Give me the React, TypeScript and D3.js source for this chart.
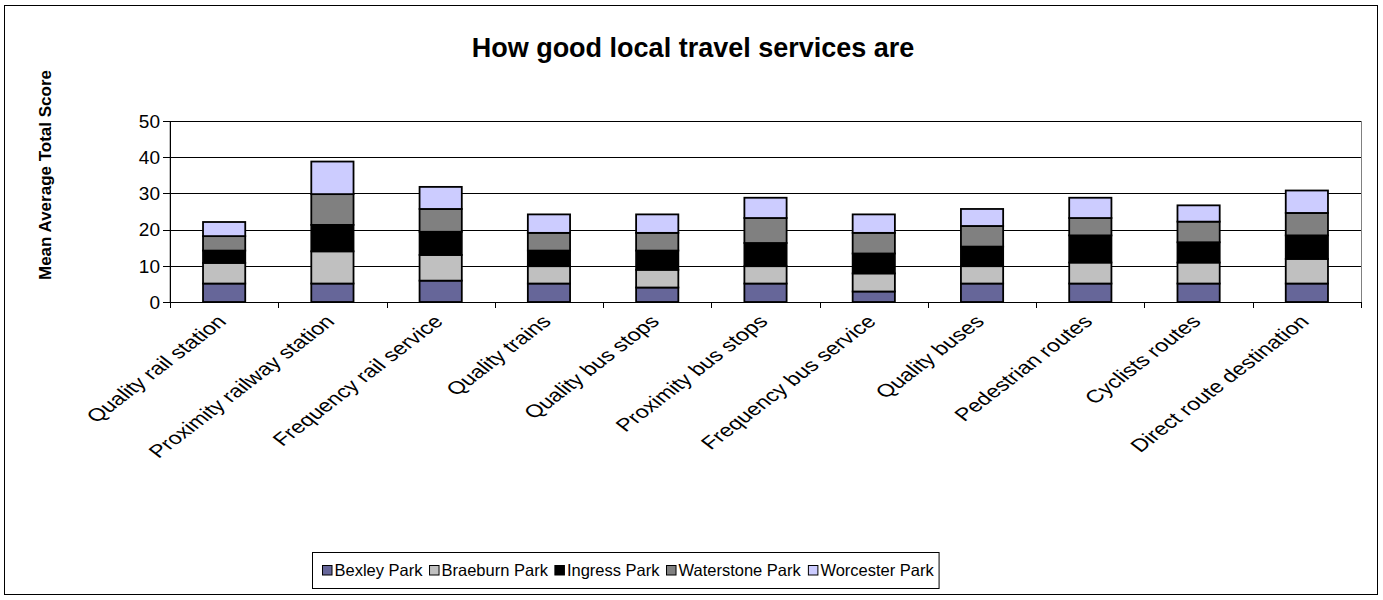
import React from 'react';
import * as d3 from 'd3';

const categories = [
  'Quality rail station',
  'Proximity railway station',
  'Frequency rail service',
  'Quality trains',
  'Quality bus stops',
  'Proximity bus stops',
  'Frequency bus service',
  'Quality buses',
  'Pedestrian routes',
  'Cyclists routes',
  'Direct route destination',
];
const seriesNames = ['Bexley Park', 'Braeburn Park', 'Ingress Park', 'Waterstone Park', 'Worcester Park'];
const seriesColors = ['#666699', '#C0C0C0', '#000000', '#808080', '#CCCCFF'];
const bexley = [5.1, 5.1, 5.9, 5.1, 4.0, 5.1, 2.9, 5.1, 5.1, 5.1, 5.1];
const braeburn = [5.7, 8.9, 7.1, 4.8, 4.9, 4.8, 5.0, 4.8, 5.8, 5.8, 6.8];
const ingress = [3.4, 7.3, 6.4, 4.3, 5.3, 6.4, 5.5, 5.4, 7.5, 5.6, 6.5];
const waterstone = [4.0, 8.5, 6.3, 4.9, 4.9, 6.9, 5.7, 5.7, 4.8, 5.7, 6.2];
const worcester = [3.9, 9.0, 6.1, 5.1, 5.1, 5.6, 5.1, 4.7, 5.6, 4.5, 6.2];
const yTicks = [0, 10, 20, 30, 40, 50];
const title = 'How good local travel services are';
const yTitle = 'Mean Average Total Score';

const W = 1383;
const H = 600;
const FONT = 'Liberation Sans, Arial, sans-serif';
const LABEL_SX = 1.3;

export default function App() {
  const plotL = 170, plotR = 1361, plotT = 121, plotB = 302;
  const x = d3.scaleBand<string>().domain(categories).range([plotL, plotR]);
  const y = d3.scaleLinear().domain([0, 50]).range([plotB, plotT]);
  const barW = x.bandwidth() * 0.39;

  const rows = categories.map((c, i) => ({
    cat: c,
    'Bexley Park': bexley[i],
    'Braeburn Park': braeburn[i],
    'Ingress Park': ingress[i],
    'Waterstone Park': waterstone[i],
    'Worcester Park': worcester[i],
  }));
  const stacked = d3.stack<any>().keys(seriesNames)(rows);

  // legend layout (estimated Arial em widths)
  const legFont = 16.5;
  const legX = 312, legY = 552, legH = 36;
  const ems = [5.335, 6.447, 5.613, 7.447, 6.89];
  let cx = legX + 10;
  const legItems = seriesNames.map((n, i) => {
    const item = { n, i, x: cx };
    cx += 12 + ems[i] * legFont + 7;
    return item;
  });
  const legW = cx - legX - 2;

  return (
    <div style={{ position: 'absolute', left: 0, top: 0 }}>
      <svg width={W} height={H} style={{ display: 'block', fontFamily: FONT }}>
        <rect x={0} y={0} width={W} height={H} fill="#fff" />
        <rect x={4.5} y={5.5} width={1373} height={589} fill="#fff" stroke="#000" strokeWidth={1} />
        <text x={693} y={57} textAnchor="middle" fontWeight="bold" fontSize={27}>{title}</text>
        <text transform={`translate(51,175) rotate(-90)`} textAnchor="middle" fontWeight="bold" fontSize={17}>{yTitle}</text>

        {/* plot border */}
        <rect x={plotL} y={plotT + 0.5} width={plotR - plotL + 0.5} height={plotB - plotT} fill="none" stroke="#808080" strokeWidth={1} />
        {/* gridlines */}
        {yTicks.map(t => (
          <line key={t} x1={plotL} x2={plotR} y1={Math.round(y(t)) + 0.5} y2={Math.round(y(t)) + 0.5} stroke="#000" strokeWidth={1} />
        ))}
        {/* y axis */}
        <line x1={plotL + 0.5} x2={plotL + 0.5} y1={plotT} y2={plotB + 6} stroke="#000" />
        {yTicks.map(t => (
          <g key={'yt' + t}>
            <line x1={plotL - 7} x2={plotL} y1={Math.round(y(t)) + 0.5} y2={Math.round(y(t)) + 0.5} stroke="#000" />
            <text x={plotL - 10} y={y(t)} dy="0.36em" textAnchor="end" fontSize={19}>{t}</text>
          </g>
        ))}
        {/* x ticks */}
        {categories.map((c, i) => {
          const xx = Math.round((x(c) as number) + x.bandwidth()) + 0.5;
          return <line key={'xt' + i} x1={xx} x2={xx} y1={plotB} y2={plotB + 6} stroke="#000" />;
        })}

        {/* bars */}
        {stacked.map((s, si) => (
          <g key={s.key}>
            {s.map((d, i) => (
              <rect
                key={i}
                x={(x(categories[i]) as number) + x.bandwidth() / 2 - barW / 2}
                y={y(d[1])}
                width={barW}
                height={y(d[0]) - y(d[1])}
                fill={seriesColors[si]}
                stroke="#000"
                strokeWidth={1.8}
              />
            ))}
          </g>
        ))}

        {/* x labels */}
        {categories.map((c, i) => {
          const cxx = (x(c) as number) + x.bandwidth() / 2 - 9;
          return (
            <text key={'xl' + i} transform={`translate(${cxx},${plotB + 11}) scale(${LABEL_SX},1) rotate(-45)`} textAnchor="end" dy="0.75em" fontSize={18}>{c}</text>
          );
        })}

        {/* legend */}
        <rect x={legX + 0.5} y={legY + 0.5} width={legW} height={legH} fill="#fff" stroke="#000" strokeWidth={1} />
        {legItems.map(it => (
          <g key={it.n}>
            <rect x={it.x + 0.5} y={legY + legH / 2 - 4.5} width={9.5} height={9.5} fill={seriesColors[it.i]} stroke="#000" />
            <text x={it.x + 12.5} y={legY + legH / 2} dy="0.36em" fontSize={legFont}>{it.n}</text>
          </g>
        ))}
      </svg>
    </div>
  );
}
